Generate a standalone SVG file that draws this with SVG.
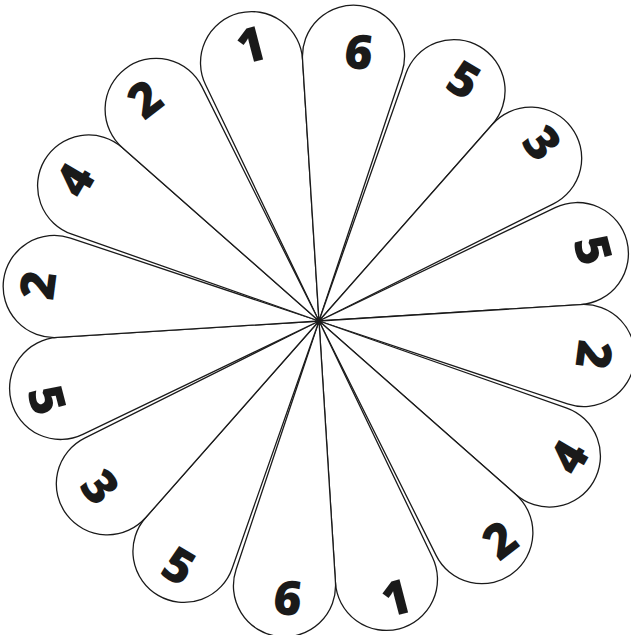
<svg xmlns="http://www.w3.org/2000/svg" xmlns:xlink="http://www.w3.org/1999/xlink" width="631" height="635" viewBox="0 0 631 635">
<style>
.petal{fill:#fff;stroke:#1a1a1a;stroke-width:1.3;stroke-linejoin:round}
.num{font-family:"Open Sans","Liberation Sans",sans-serif;font-weight:800;font-size:48px;fill:#1a1a1a;text-anchor:middle}
</style>
<defs>
<path id="p" class="petal" d="M0,0 L257.15,-50.11 A51.07,51.07 0 1 1 257.15,50.11 Z"/>
</defs>
<rect width="631" height="635" fill="#fff"/>
<g id="petals">
<g id="petal-1"><use xlink:href="#p" href="#p" transform="translate(319,321) rotate(-104.625)"/><text class="num" transform="translate(251,45) rotate(-14.6)" y="17">1</text></g>
<g id="petal-2"><use xlink:href="#p" href="#p" transform="translate(319,321) rotate(-82.575)"/><text class="num" transform="translate(359,52) rotate(7.4)" y="17">6</text></g>
<g id="petal-3"><use xlink:href="#p" href="#p" transform="translate(319,321) rotate(-59.625)"/><text class="num" transform="translate(464,80) rotate(30.4)" y="17">5</text></g>
<g id="petal-4"><use xlink:href="#p" href="#p" transform="translate(319,321) rotate(-37.575)"/><text class="num" transform="translate(542,143) rotate(52.4)" y="17">3</text></g>
<g id="petal-5"><use xlink:href="#p" href="#p" transform="translate(319,321) rotate(-14.625)"/><text class="num" transform="translate(593,250) rotate(75.4)" y="17">5</text></g>
<g id="petal-6"><use xlink:href="#p" href="#p" transform="translate(319,321) rotate(7.425)"/><text class="num" transform="translate(594,355) rotate(97.4)" y="17">2</text></g>
<g id="petal-7"><use xlink:href="#p" href="#p" transform="translate(319,321) rotate(30.375)"/><text class="num" transform="translate(569,457) rotate(-59.6)" y="17">4</text></g>
<g id="petal-8"><use xlink:href="#p" href="#p" transform="translate(319,321) rotate(52.425)"/><text class="num" transform="translate(500,540) rotate(-37.6)" y="17">2</text></g>
<g id="petal-9"><use xlink:href="#p" href="#p" transform="translate(319,321) rotate(75.375)"/><text class="num" transform="translate(396,598) rotate(-14.6)" y="17">1</text></g>
<g id="petal-10"><use xlink:href="#p" href="#p" transform="translate(319,321) rotate(97.425)"/><text class="num" transform="translate(288,598) rotate(7.4)" y="17">6</text></g>
<g id="petal-11"><use xlink:href="#p" href="#p" transform="translate(319,321) rotate(120.375)"/><text class="num" transform="translate(179,566) rotate(30.4)" y="17">5</text></g>
<g id="petal-12"><use xlink:href="#p" href="#p" transform="translate(319,321) rotate(142.425)"/><text class="num" transform="translate(100,487) rotate(52.4)" y="17">3</text></g>
<g id="petal-13"><use xlink:href="#p" href="#p" transform="translate(319,321) rotate(165.375)"/><text class="num" transform="translate(47,400) rotate(75.4)" y="17">5</text></g>
<g id="petal-14"><use xlink:href="#p" href="#p" transform="translate(319,321) rotate(187.425)"/><text class="num" transform="translate(38,285) rotate(-82.6)" y="17">2</text></g>
<g id="petal-15"><use xlink:href="#p" href="#p" transform="translate(319,321) rotate(210.375)"/><text class="num" transform="translate(75,180) rotate(-59.6)" y="17">4</text></g>
<g id="petal-16"><use xlink:href="#p" href="#p" transform="translate(319,321) rotate(232.425)"/><text class="num" transform="translate(145,99) rotate(-37.6)" y="17">2</text></g>
</g>
<g id="connectors"/>
</svg>
